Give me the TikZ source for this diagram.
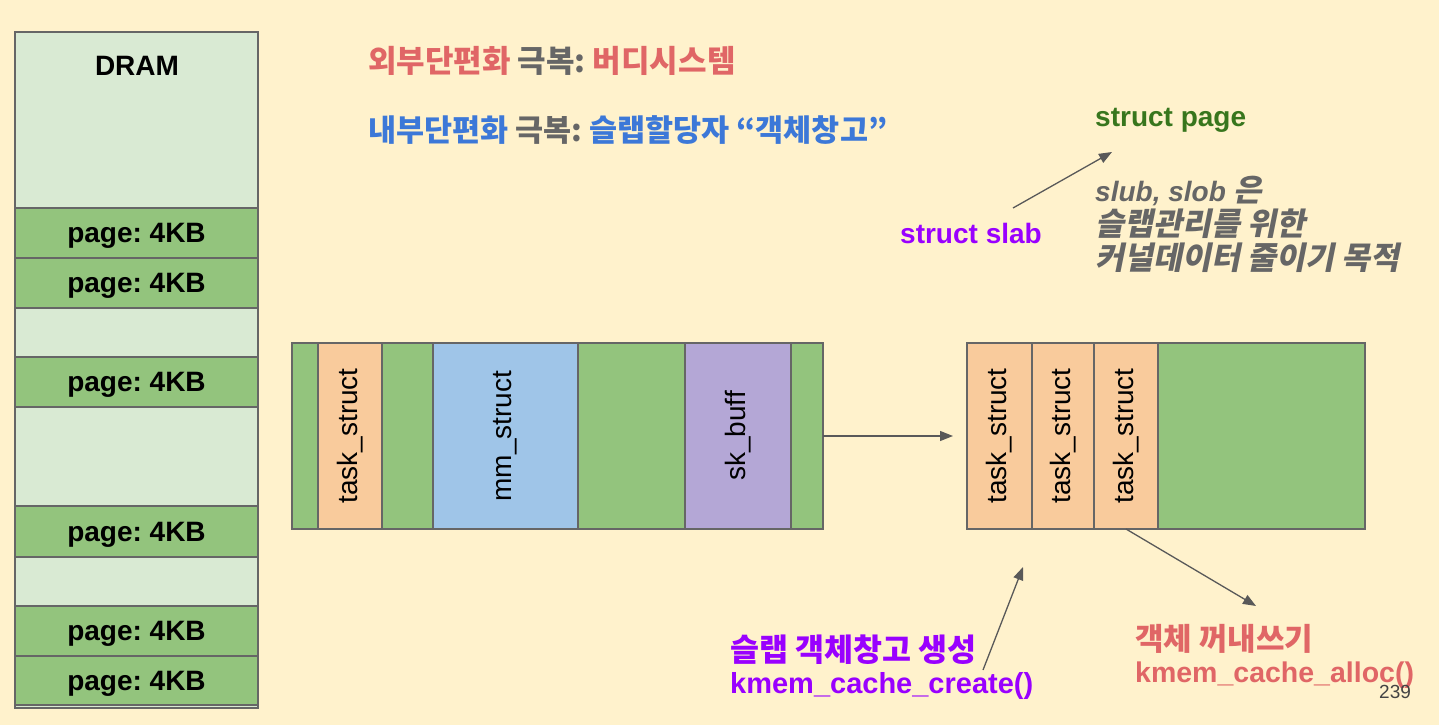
\documentclass[tikz,border=0pt]{standalone}
\usepackage{fontspec}
\setmainfont{Liberation Sans}
\newfontfamily\kr{Noto Sans CJK KR}
\newfontfamily\krsl{Noto Sans CJK KR}[FakeSlant=0.2]
\usetikzlibrary{arrows.meta}
\definecolor{bg}{HTML}{FFF2CC}
\definecolor{dlight}{HTML}{D9EAD3}
\definecolor{pgreen}{HTML}{93C47D}
\definecolor{porange}{HTML}{F9CB9C}
\definecolor{pblue}{HTML}{9FC5E8}
\definecolor{ppurple}{HTML}{B4A7D6}
\definecolor{bordergray}{HTML}{666666}
\definecolor{arrowgray}{HTML}{595959}
\definecolor{tred}{HTML}{E06666}
\definecolor{tgray}{HTML}{666666}
\definecolor{tblue}{HTML}{3C78D8}
\definecolor{tgreen}{HTML}{38761D}
\definecolor{tpurple}{HTML}{9900FF}
\definecolor{tdark}{HTML}{434343}
\newcommand\fs[1]{\fontsize{#1}{#1}\selectfont}
\frenchspacing
\begin{document}
\begin{tikzpicture}[x=1pt,y=-1pt,
  cell/.style={draw=bordergray, line width=1.2pt, inner sep=0pt, outer sep=0pt},
  dcell/.style={cell, minimum width=243pt, font=\bfseries\fs{28}, text depth=0pt},
  scell/.style={cell, minimum height=186pt, font=\fs{28}},
  txt/.style={inner sep=0pt, anchor=base west},
  arr/.style={draw=arrowgray, line width=1.3pt, -{Triangle[length=13pt,width=10pt]}}
]
\fill[bg] (0,0) rectangle (1439,725);
\useasboundingbox (0,0) rectangle (1439,725);

% DRAM column
\node[dcell, fill=dlight, minimum height=176pt] (d1) at (136.5,120) {};
\node[dcell, fill=pgreen, minimum height=50pt] (d2) at (136.5,233) {page: 4KB};
\node[dcell, fill=pgreen, minimum height=50pt] (d3) at (136.5,283) {page: 4KB};
\node[dcell, fill=dlight, minimum height=49pt] (d4) at (136.5,332.5) {};
\node[dcell, fill=pgreen, minimum height=50pt] (d5) at (136.5,382) {page: 4KB};
\node[dcell, fill=dlight, minimum height=99pt] (d6) at (136.5,456.5) {};
\node[dcell, fill=pgreen, minimum height=51pt] (d7) at (136.5,531.5) {page: 4KB};
\node[dcell, fill=dlight, minimum height=49pt] (d8) at (136.5,581.5) {};
\node[dcell, fill=pgreen, minimum height=50pt] (d9) at (136.5,631) {page: 4KB};
\node[dcell, fill=pgreen, minimum height=49pt] (d10) at (136.5,680.5) {page: 4KB};
\node[dcell, fill=dlight, minimum height=3pt] (d11) at (136.5,706.5) {};
\node[inner sep=0pt, anchor=base, font=\bfseries\fs{28}] (dram) at (137,75) {DRAM};

% left slab
\node[scell, fill=pgreen, minimum width=26pt] (a1) at (305,436) {};
\node[scell, fill=porange, minimum width=64pt] (a2) at (350,436) {\rotatebox{90}{task\_struct}};
\node[scell, fill=pgreen, minimum width=51pt] (a3) at (407.5,436) {};
\node[scell, fill=pblue, minimum width=145pt] (a4) at (505.5,436) {\rotatebox{90}{mm\_struct}};
\node[scell, fill=pgreen, minimum width=107pt] (a5) at (631.5,436) {};
\node[scell, fill=ppurple, minimum width=106pt] (a6) at (738,436) {\rotatebox{90}{sk\_buff}};
\node[scell, fill=pgreen, minimum width=32pt] (a7) at (807,436) {};

% right slab
\node[scell, fill=porange, minimum width=65pt] (b1) at (999.5,436) {\rotatebox{90}{task\_struct}};
\node[scell, fill=porange, minimum width=62pt] (b2) at (1063,436) {\rotatebox{90}{task\_struct}};
\node[scell, fill=porange, minimum width=64pt] (b3) at (1126,436) {\rotatebox{90}{task\_struct}};
\node[scell, fill=pgreen, minimum width=207pt] (b4) at (1261.5,436) {};

% top titles
\node[txt, font=\kr\bfseries\fs{31}] (t1) at (368,73)
  {\textcolor{tred}{외부단편화} \textcolor{tgray}{극복:} \textcolor{tred}{버디시스템}};
\node[txt, font=\kr\bfseries\fs{30.5}] (t2) at (368,141)
  {\textcolor{tblue}{내부단편화} \textcolor{tgray}{극복:} \textcolor{tblue}{슬랩할당자 “객체창고”}};

% struct page / slab
\node[txt, font=\bfseries\fs{28}, text=tgreen] (spage) at (1095,126) {struct page};
\node[txt, font=\bfseries\fs{28}, text=tpurple] (sslab) at (900,243) {struct slab};
\node[txt, font=\bfseries\itshape\fs{28}, text=tgray] (n1) at (1095,201) {slub, slob {\krsl\fs{31}은}};
\node[txt, font=\krsl\bfseries\fs{31.5}, text=tgray] (n2) at (1095,235) {슬랩관리를 위한};
\node[txt, font=\krsl\bfseries\fs{31.5}, text=tgray] (n3) at (1095,269) {커널데이터 줄이기 목적};

% bottom labels
\node[txt, font=\kr\bfseries\fs{31.5}, text=tpurple] (p1) at (730,661) {슬랩 객체창고 생성};
\node[txt, font=\bfseries\fs{29}, text=tpurple] (p2) at (730,693) {kmem\_cache\_create()};
\node[txt, font=\kr\bfseries\fs{31}, text=tred] (r1) at (1135,650) {객체 꺼내쓰기};
\node[txt, font=\bfseries\fs{28.5}, text=tred] (r2) at (1135,682) {kmem\_cache\_alloc()};
\node[txt, font=\fs{19}, text=tdark] (pg) at (1379,698) {239};

% arrows
\coordinate (c1s) at (1013,208);
\coordinate (c1e) at (1112,152);
\coordinate (c2e) at (953,436);
\coordinate (c3s) at (983,670);
\coordinate (c3e) at (1023,567);
\coordinate (c4e) at (1256,606);
\draw[arr] (c1s) -- (c1e);
\draw[arr] (a7.east) -- (c2e);
\draw[arr] (c3s) -- (c3e);
\draw[arr] (b3.south) -- (c4e);
\end{tikzpicture}
\end{document}
